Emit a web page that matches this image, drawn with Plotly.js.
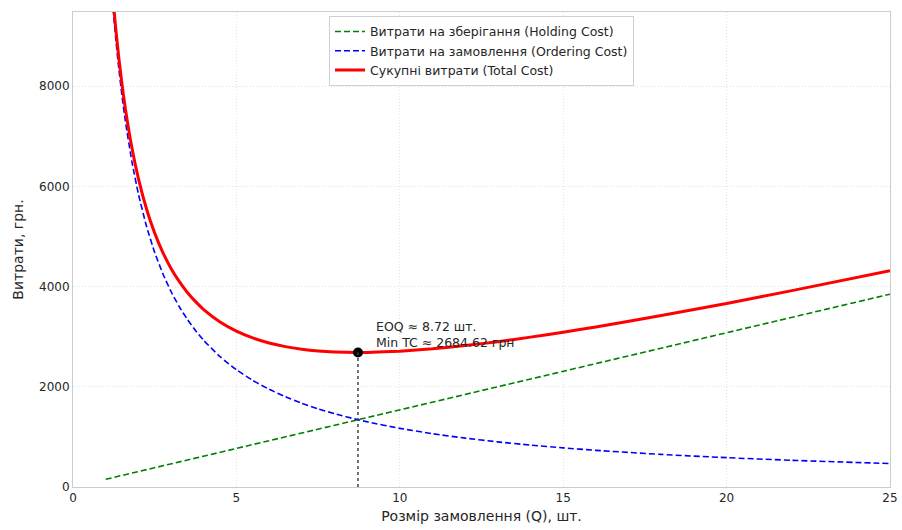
<!DOCTYPE html>
<html>
<head>
<meta charset="utf-8">
<script src="https://cdn.plot.ly/plotly-3.0.1.min.js"></script>
<style>html,body{margin:0;padding:0;background:#fff;}#chart{width:902px;height:530px;}</style>
</head>
<body>
<div id="chart"></div>
<script>
const orderQty = [1, 1.1, 1.2, 1.3, 1.4, 1.5, 1.6, 1.8, 2, 2.25, 2.5, 2.75, 3, 3.25, 3.5, 3.75, 4, 4.5, 5, 5.5, 6, 6.5, 7, 7.5, 8, 8.72, 9, 10, 11, 12, 13, 14, 15, 16, 18, 20, 22, 25];
const holdingCost = [153.9, 169.3, 184.7, 200.1, 215.5, 230.9, 246.3, 277.1, 307.9, 346.3, 384.8, 423.3, 461.8, 500.3, 538.8, 577.2, 615.7, 692.7, 769.7, 846.6, 923.6, 1000.5, 1077.5, 1154.5, 1231.4, 1342.3, 1385.4, 1539.3, 1693.2, 1847.2, 2001.1, 2155.0, 2309.0, 2462.9, 2770.7, 3078.6, 3386.5, 3848.3];
const orderingCost = [11705, 10641, 9754, 9003.8, 8360.7, 7803.3, 7315.6, 6502.8, 5852.5, 5202.2, 4682.0, 4256.4, 3901.7, 3601.5, 3344.3, 3121.3, 2926.3, 2601.1, 2341.0, 2128.2, 1950.8, 1800.8, 1672.1, 1560.7, 1463.1, 1342.3, 1300.6, 1170.5, 1064.1, 975.4, 900.4, 836.1, 780.3, 731.6, 650.3, 585.3, 532.0, 468.2];
const totalCost = [11859, 10810, 9939, 9204, 8576, 8034, 7562, 6780, 6160, 5549, 5067, 4680, 4363, 4102, 3883, 3699, 3542, 3294, 3111, 2975, 2874, 2801, 2750, 2715, 2695, 2684.6, 2686, 2710, 2757, 2823, 2901, 2991, 3089, 3194, 3421, 3664, 3919, 4317];
const eoq = 8.72;
const minTC = 2684.62;
const seriesNames = ["Витрати на зберігання (Holding Cost)", "Витрати на замовлення (Ordering Cost)", "Сукупні витрати (Total Cost)"];
const xTicks = [0, 5, 10, 15, 20, 25];
const yTicks = [0, 2000, 4000, 6000, 8000];

const font = "DejaVu Sans, sans-serif";
const traces = [
  {x: orderQty, y: holdingCost, name: seriesNames[0], mode: "lines", line: {color: "#008000", width: 1.6, dash: "6px,3px"}},
  {x: orderQty, y: orderingCost, name: seriesNames[1], mode: "lines", line: {color: "#0000ff", width: 1.6, dash: "6px,3px", shape: "spline", smoothing: 0.5}},
  {x: orderQty, y: totalCost, name: seriesNames[2], mode: "lines", line: {color: "#ff0000", width: 3, shape: "spline", smoothing: 0.5}},
  {x: [eoq], y: [minTC], mode: "markers", marker: {color: "#000", size: 10}, showlegend: false, hoverinfo: "skip"}
];
const layout = {
  width: 902, height: 530,
  margin: {l: 73, r: 12, t: 12, b: 43},
  paper_bgcolor: "#fff", plot_bgcolor: "#fff",
  font: {family: font, size: 12, color: "#262626"},
  xaxis: {range: [0, 25], tickvals: xTicks, ticktext: xTicks.map(String), showgrid: true, gridcolor: "#e2e2e2", griddash: "1px,2px", gridwidth: 1,
    zeroline: false, showline: true, linecolor: "#cccccc", mirror: true, ticks: "", tickfont: {size: 12},
    title: {text: "Розмір замовлення (Q), шт.", font: {size: 14}, standoff: 6}},
  yaxis: {range: [0, 9480], tickvals: yTicks, ticktext: yTicks.map(String), showgrid: true, gridcolor: "#e2e2e2", griddash: "1px,2px", gridwidth: 1,
    zeroline: false, showline: true, linecolor: "#cccccc", mirror: true, ticks: "", tickfont: {size: 12},
    title: {text: "Витрати, грн.", font: {size: 14}, standoff: 12}},
  legend: {x: 0.5, xanchor: "center", y: 0.992, yanchor: "top", bgcolor: "rgba(255,255,255,0.85)", bordercolor: "#d0d0d0", borderwidth: 1,
    font: {size: 12.5}, tracegroupgap: 0},
  shapes: [{type: "line", x0: eoq, x1: eoq, y0: 0, y1: minTC, line: {color: "#444", width: 1.5, dash: "dot"}}],
  annotations: [{x: eoq + 0.5, y: minTC + 10, xref: "x", yref: "y", xanchor: "left", yanchor: "bottom", align: "left", showarrow: false,
    text: "EOQ ≈ " + eoq.toFixed(2) + " шт.<br>Min TC ≈ " + minTC.toFixed(2) + " грн", font: {size: 12.5, color: "#262626"}}],
  showlegend: true
};
Plotly.newPlot("chart", traces, layout, {displayModeBar: false, staticPlot: true});
</script>
</body>
</html>
